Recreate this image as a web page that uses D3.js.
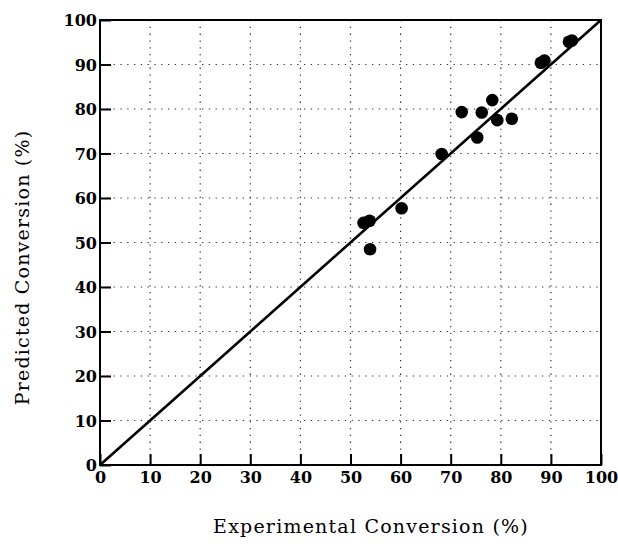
<!DOCTYPE html>
<html>
<head>
<meta charset="utf-8">
<script src="https://cdn.jsdelivr.net/npm/d3@7"></script>
<style>
  body { margin: 0; background: #fff; }
  svg { display: block; }
  .tick text { font-family: "DejaVu Serif", serif; font-weight: bold; font-size: 16px; fill: #000; }
  .title { font-family: "DejaVu Serif", serif; font-size: 19px; fill: #000; }
</style>
</head>
<body>
<svg width="618" height="548"></svg>
<script>

// chart data
var experimental = [52.6, 53.8, 53.9, 60.2, 68.2, 72.2, 75.3, 76.2, 78.3, 79.3, 82.2, 88.0, 88.7, 93.6, 94.2];
var predicted    = [54.4, 54.9, 48.5, 57.7, 69.9, 79.3, 73.6, 79.2, 82.0, 77.5, 77.8, 90.4, 90.9, 95.1, 95.4];
var tickValues = [0, 10, 20, 30, 40, 50, 60, 70, 80, 90, 100];

var svg = d3.select("svg"),
  margin = {top: 20, right: 17, bottom: 83, left: 100},
  width = 618 - margin.left - margin.right,
  height = 548 - margin.top - margin.bottom;

var x = d3.scaleLinear().domain([0, 100]).range([0, width]);
var y = d3.scaleLinear().domain([0, 100]).range([height, 0]);

var g = svg.append("g").attr("transform", "translate(" + margin.left + "," + margin.top + ")");

// dotted grid
g.append("g").selectAll("line").data(tickValues.slice(1, -1)).enter().append("line")
  .attr("x1", function(d) { return x(d); }).attr("x2", function(d) { return x(d); })
  .attr("y1", 0).attr("y2", height)
  .attr("stroke", "#333").attr("stroke-width", 1.2).attr("stroke-dasharray", "1.3,5.5");
g.append("g").selectAll("line").data(tickValues.slice(1, -1)).enter().append("line")
  .attr("y1", function(d) { return y(d); }).attr("y2", function(d) { return y(d); })
  .attr("x1", 0).attr("x2", width)
  .attr("stroke", "#333").attr("stroke-width", 1.2).attr("stroke-dasharray", "1.3,5.5");

// axes, ticks pointing inward
var xAxis = g.append("g").attr("transform", "translate(0," + height + ")")
  .call(d3.axisBottom(x).tickValues(tickValues).tickSize(-11).tickPadding(4));
var yAxis = g.append("g")
  .call(d3.axisLeft(y).tickValues(tickValues).tickSize(-11).tickPadding(3));

xAxis.select(".domain").remove();
yAxis.select(".domain").remove();
xAxis.selectAll(".tick line").attr("stroke", "#000").attr("stroke-width", 2);
yAxis.selectAll(".tick line").attr("stroke", "#000").attr("stroke-width", 2);
xAxis.selectAll(".tick text").attr("dy", "0.9em");
yAxis.selectAll(".tick text").attr("dy", "0.35em");

// frame
g.append("rect").attr("width", width).attr("height", height)
  .attr("fill", "none").attr("stroke", "#000").attr("stroke-width", 2);

// parity line
g.append("line")
  .attr("x1", x(0)).attr("y1", y(0)).attr("x2", x(100)).attr("y2", y(100))
  .attr("stroke", "#000").attr("stroke-width", 2.6);

// points
g.append("g").selectAll("circle").data(experimental).enter().append("circle")
  .attr("cx", function(d) { return x(d); })
  .attr("cy", function(d, i) { return y(predicted[i]); })
  .attr("r", 6.3)
  .attr("fill", "#000");

// axis titles
svg.append("text").attr("class", "title")
  .attr("x", 371).attr("y", 533)
  .attr("text-anchor", "middle")
  .style("letter-spacing", "1.2px")
  .text("Experimental Conversion (%)");

svg.append("text").attr("class", "title")
  .attr("transform", "translate(29," + (margin.top + height / 2 + 25) + ") rotate(-90)")
  .attr("text-anchor", "middle")
  .style("letter-spacing", "1.2px")
  .text("Predicted Conversion (%)");

</script>
</body>
</html>
